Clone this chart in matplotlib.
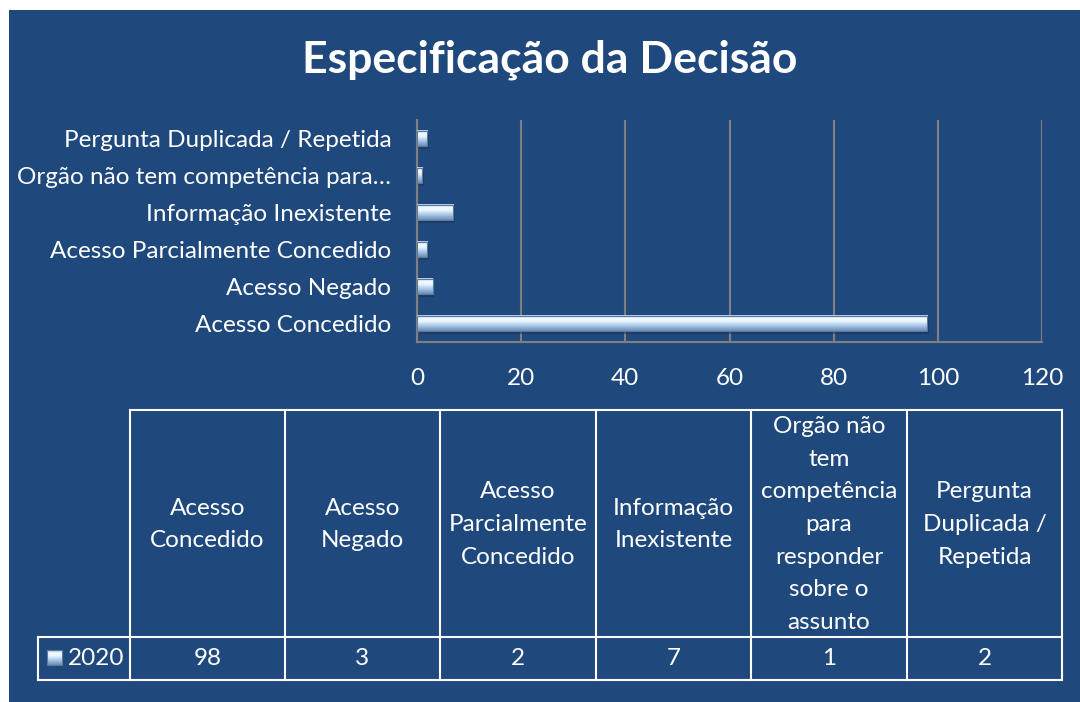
import matplotlib
matplotlib.use("Agg")
import matplotlib.pyplot as plt
import numpy as np
from matplotlib.patches import Rectangle
from matplotlib.colors import LinearSegmentedColormap

# ---- data ----
title = "Especificação da Decisão"
categories = ["Acesso Concedido", "Acesso Negado", "Acesso Parcialmente Concedido",
              "Informação Inexistente",
              "Orgão não tem competência para responder sobre o assunto",
              "Pergunta Duplicada / Repetida"]
axis_labels = ["Acesso Concedido", "Acesso Negado", "Acesso Parcialmente Concedido",
               "Informação Inexistente", "Orgão não tem competência para…",
               "Pergunta Duplicada / Repetida"]
header_labels = ["Acesso\nConcedido", "Acesso\nNegado", "Acesso\nParcialmente\nConcedido",
                 "Informação\nInexistente",
                 "Orgão não\ntem\ncompetência\npara\nresponder\nsobre o\nassunto",
                 "Pergunta\nDuplicada /\nRepetida"]
series_name = "2020"
values = [98, 3, 2, 7, 1, 2]
xticks = [0, 20, 40, 60, 80, 100, 120]

W, H = 1080, 702
BG = "#1F497D"
FONT = ["Lato", "DejaVu Sans"]
plt.rcParams['font.family'] = FONT
FS = 17.5

fig = plt.figure(figsize=(W / 100, H / 100), dpi=100, facecolor="white")

# overlay axes in pixel coordinates
ov = fig.add_axes([0, 0, 1, 1])
ov.set_xlim(0, W)
ov.set_ylim(H, 0)
ov.axis("off")
ov.add_patch(Rectangle((9, 10), W - 9, H - 10, facecolor=BG, edgecolor="none", zorder=0))

ov.text(550, 60, title, color="white", fontsize=32, fontweight="bold",
        ha="center", va="center", zorder=3)

# ---- main bar axes ----
x0, x1, ytop, ybot = 417, 1042, 120, 342
ax = fig.add_axes([x0 / W, 1 - ybot / H, (x1 - x0) / W, (ybot - ytop) / H])
ax.set_facecolor("none")
ax.set_xlim(0, 120)
n = len(values)
ax.set_ylim(-0.5, n - 0.5)
ax.set_xticks(xticks)
ax.set_xticklabels([str(t) for t in xticks], color="white", fontsize=FS)
ax.set_yticks(range(n))
ax.set_yticklabels(axis_labels, color="white", fontsize=FS)
ax.tick_params(length=0)
ax.tick_params(axis="y", pad=18.5)
ax.tick_params(axis="x", pad=19)
ax.grid(axis="x", color="#7F7F7F", linewidth=1.5)
ax.set_axisbelow(True)
for s in ["top", "right"]:
    ax.spines[s].set_visible(False)
for s in ["left", "bottom"]:
    ax.spines[s].set_color("#7F7F7F")
    ax.spines[s].set_linewidth(1.5)

cmap = LinearSegmentedColormap.from_list(
    "bev", ["#6F8DB3", "#8FB0D6", "#B7D2EE", "#E6F4FF", "#F4FBFF", "#A9C6E6"])
grad = np.linspace(0, 1, 64).reshape(-1, 1)
bh = 0.42
for i, v in enumerate(values):
    # shadow
    ax.add_patch(Rectangle((0.3, i - bh / 2 - 0.08), v, bh, facecolor="#14304F",
                           alpha=0.5, edgecolor="none", zorder=2))
    ax.imshow(grad, cmap=cmap, aspect="auto", origin="lower",
              extent=(0, v, i - bh / 2, i + bh / 2), zorder=3, interpolation="bilinear")
    ax.add_patch(Rectangle((0, i - bh / 2), v, bh, facecolor="none",
                           edgecolor="#5D7A9E", linewidth=0.8, zorder=4))
ax.set_xlim(0, 120)
ax.set_ylim(-0.5, n - 0.5)

# ---- data table ----
cols = [130, 285, 440, 596, 751, 907, 1062]
t_top, t_mid, t_bot = 410, 637, 680
left_lab = 38
lc = "white"
lw = 1.5
ov.plot([cols[0], cols[-1]], [t_top, t_top], color=lc, lw=lw, zorder=3)
for c in cols:
    ov.plot([c, c], [t_top, t_bot], color=lc, lw=lw, zorder=3)
ov.plot([left_lab, cols[-1]], [t_mid, t_mid], color=lc, lw=lw, zorder=3)
ov.plot([left_lab, cols[-1]], [t_bot, t_bot], color=lc, lw=lw, zorder=3)
ov.plot([left_lab, left_lab], [t_mid, t_bot], color=lc, lw=lw, zorder=3)

for j, lab in enumerate(header_labels):
    cx = (cols[j] + cols[j + 1]) / 2
    ov.text(cx, (t_top + t_mid) / 2 + 1, lab, color="white", fontsize=FS,
            ha="center", va="center", linespacing=1.68, zorder=4)
    ov.text(cx, (t_mid + t_bot) / 2, str(values[j]), color="white", fontsize=FS,
            ha="center", va="center", zorder=4)

# legend key and series name
ov.imshow(grad[::-1], cmap=cmap, aspect="auto", extent=(47, 62, 665, 650), zorder=4)
ov.add_patch(Rectangle((47, 650), 15, 15, facecolor="none", edgecolor="#5D7A9E",
                       lw=0.8, zorder=5))
ov.text(68, (t_mid + t_bot) / 2, series_name, color="white", fontsize=FS,
        ha="left", va="center", zorder=4)
ov.set_xlim(0, W)
ov.set_ylim(H, 0)

fig.savefig("out.png", dpi=100, facecolor="white")
